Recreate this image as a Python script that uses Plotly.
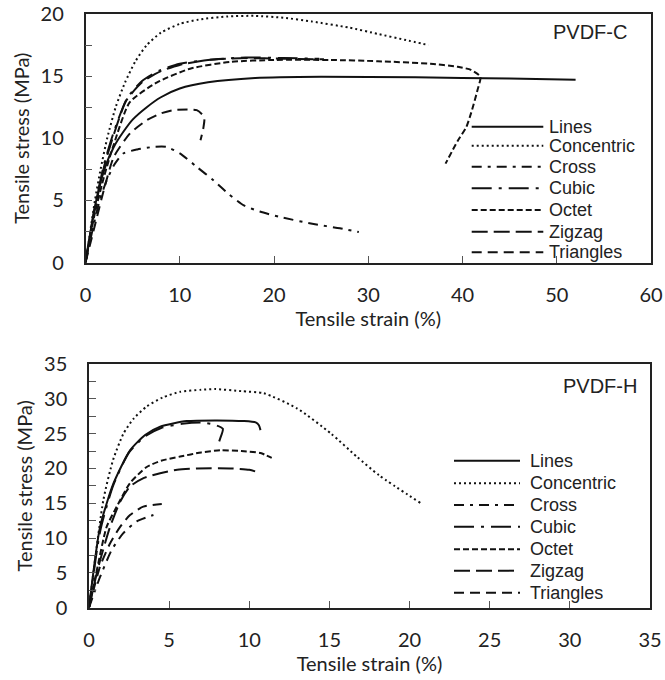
import plotly.graph_objects as go

# ---------------- PVDF-C data (strain %, stress MPa) ----------------
c_lines_x = [0, 1, 2, 3, 4, 5, 6.5, 8, 10, 13, 18, 25, 35, 45, 52]
c_lines_y = [0, 4.5, 7.5, 9.3, 10.5, 11.5, 12.5, 13.3, 14.0, 14.5, 14.85, 14.95, 14.9, 14.8, 14.7]

c_conc_x = [0, 0.5, 1.0, 1.6, 2.3, 3.2, 4.2, 5.3, 6.5, 8, 10, 12, 15, 18, 21, 24, 28, 31, 34, 36.4]
c_conc_y = [0, 2.5, 5, 7.5, 10, 12.5, 14.5, 16.2, 17.5, 18.5, 19.2, 19.55, 19.8, 19.85, 19.7, 19.4, 18.9, 18.4, 17.9, 17.5]

c_cross_x = [0, 0.8, 1.5, 2.25, 3, 4, 5.5, 7.2, 8.6, 10.05, 11.8, 13.6, 15.2, 16.8, 18.5, 20.7, 24.2, 27, 29.0]
c_cross_y = [0, 2.8, 5.0, 6.6, 7.8, 8.77, 9.1, 9.3, 9.3, 8.77, 7.7, 6.6, 5.5, 4.6, 4.1, 3.65, 3.1, 2.75, 2.45]

c_cubic_x = [0, 1, 2, 3, 4.4, 6, 8, 10, 13, 17, 21, 24.8]
c_cubic_y = [0, 4.5, 8, 10.5, 13.2, 14.6, 15.5, 16.0, 16.3, 16.5, 16.45, 16.4]

c_octet_x = [0, 1, 2, 3, 4.7, 7.6, 11.1, 15.4, 20, 26, 31, 36.6, 39.5, 40.9, 41.9, 41.6, 40.9, 40.4, 39.5, 38.2]
c_octet_y = [0, 4.0, 7.0, 9.5, 12.9, 14.5, 15.6, 16.15, 16.3, 16.3, 16.2, 16.0, 15.75, 15.5, 14.95, 13.9, 12.0, 10.9, 9.8, 7.96]

c_zig_x = [0, 1, 2, 3, 4.3, 6, 8, 10, 13, 17, 21, 25.3]
c_zig_y = [0, 4.3, 7.8, 10.3, 13.0, 14.5, 15.4, 15.9, 16.3, 16.45, 16.4, 16.35]

c_tri_x = [0, 1, 2, 3, 4.73, 6.5, 8, 9.3, 11.8, 12.6, 12.5, 12.2]
c_tri_y = [0, 3, 6, 8.5, 10.4, 11.45, 12.0, 12.26, 12.26, 11.7, 10.8, 9.84]

# ---------------- PVDF-H data ----------------
h_lines_x = [0, 0.69, 1.52, 2.56, 3.5, 4.44, 6.1, 8, 9.65, 10.4, 10.6, 10.7]
h_lines_y = [0, 11.6, 17.8, 22.6, 24.8, 26.0, 26.8, 26.9, 26.8, 26.6, 26.2, 25.5]

h_conc_x = [0, 0.9, 1.5, 2.15, 2.8, 3.6, 4.6, 5.69, 7.0, 7.875, 9.5, 10.9, 13.0, 15.1, 16.7, 18.1, 20.7]
h_conc_y = [0, 15.5, 21.2, 25.0, 27.2, 28.9, 30.2, 31.0, 31.3, 31.4, 31.1, 30.8, 28.6, 25.0, 21.7, 19.0, 15.0]

h_cross_x = [0, 0.69, 1.42, 2.14, 2.98, 4.02]
h_cross_y = [0, 4.4, 8.3, 10.7, 12.4, 13.3]

h_cubic_x = [0, 0.7, 1.5, 2.5, 3.5, 4.5, 5.8, 7.0, 7.8, 8.35, 8.2, 8.0]
h_cubic_y = [0, 11.0, 17.5, 22.3, 24.6, 25.8, 26.4, 26.6, 26.3, 25.7, 24.4, 23.1]

h_octet_x = [0, 0.5, 1.1, 1.73, 2.56, 3.6, 4.5, 5.69, 7, 8.19, 9.5, 10.7, 11.4]
h_octet_y = [0, 5.5, 11.6, 14.5, 17.9, 20.2, 21.1, 21.7, 22.3, 22.6, 22.5, 22.2, 21.5]

h_zig_x = [0, 0.6, 1.3, 1.94, 2.56, 3.4, 4.44, 5.5, 6.73, 8.8, 10.0, 10.6]
h_zig_y = [0, 6.0, 11.5, 15.2, 17.4, 18.6, 19.3, 19.8, 20.0, 20.0, 19.8, 19.4]

h_tri_x = [0, 0.69, 1.31, 1.94, 2.56, 3.39, 4.54]
h_tri_y = [0, 5.9, 9.2, 11.6, 13.3, 14.5, 14.9]

names = ["Lines", "Concentric", "Cross", "Cubic", "Octet", "Zigzag", "Triangles"]
dashes = ["solid", "2px,3px", "10px,6px,3px,6px", "20px,7px,3px,7px", "6px,3px", "16px,6px", "10px,6px"]

top_series = [(c_lines_x, c_lines_y), (c_conc_x, c_conc_y), (c_cross_x, c_cross_y),
              (c_cubic_x, c_cubic_y), (c_octet_x, c_octet_y), (c_zig_x, c_zig_y), (c_tri_x, c_tri_y)]
bot_series = [(h_lines_x, h_lines_y), (h_conc_x, h_conc_y), (h_cross_x, h_cross_y),
              (h_cubic_x, h_cubic_y), (h_octet_x, h_octet_y), (h_zig_x, h_zig_y), (h_tri_x, h_tri_y)]

W, H = 665, 680
LINE_COL = "#111111"
fig = go.Figure()

for (x, y), n, d in zip(top_series, names, dashes):
    fig.add_trace(go.Scatter(x=x, y=y, mode="lines", name=n, xaxis="x", yaxis="y",
                             line=dict(color=LINE_COL, width=2, dash=d, shape="spline", smoothing=0.6),
                             showlegend=False))
for (x, y), n, d in zip(bot_series, names, dashes):
    fig.add_trace(go.Scatter(x=x, y=y, mode="lines", name=n, xaxis="x2", yaxis="y2",
                             line=dict(color=LINE_COL, width=2, dash=d, shape="spline", smoothing=0.6),
                             showlegend=False))

tick_font = dict(family="Lato, Open Sans, sans-serif", size=20, color="#222222")
title_font = dict(family="Lato, Open Sans, sans-serif", size=20, color="#222222")

def px_x(p):
    return p / W

def px_y(p):
    return 1 - p / H

axis_common = dict(showline=True, linecolor="#222222", linewidth=1.5, mirror=True,
                   ticks="inside", tickcolor="#555555", ticklen=7, tickwidth=1.2,
                   showgrid=False, zeroline=False, tickfont=tick_font, automargin=False)

fig.update_layout(
    width=W, height=H, margin=dict(l=0, r=0, t=0, b=0, autoexpand=False),
    paper_bgcolor="white", plot_bgcolor="white",
    showlegend=False,
    xaxis=dict(domain=[px_x(85.5), px_x(651)], range=[0, 60], dtick=10, anchor="y",
               title=dict(text="Tensile strain (%)", font=title_font, standoff=2),
               ticklabelstandoff=14, **axis_common),
    yaxis=dict(domain=[px_y(262.5), px_y(14)], range=[0, 20], dtick=5, anchor="x",
               minor=dict(dtick=2.5, ticks="inside", ticklen=7, tickcolor="#555555", tickwidth=1.2),
               title=dict(text="Tensile stress (MPa)", font=title_font, standoff=6),
               ticklabelstandoff=16, **axis_common),
    xaxis2=dict(domain=[px_x(89), px_x(650)], range=[0, 35], dtick=5, anchor="y2",
                title=dict(text="Tensile strain (%)", font=title_font, standoff=2),
                ticklabelstandoff=14, **axis_common),
    yaxis2=dict(domain=[px_y(607.6), px_y(364)], range=[0, 35], dtick=5, anchor="x2",
                minor=dict(dtick=2.5, ticks="inside", ticklen=7, tickcolor="#555555", tickwidth=1.2),
                title=dict(text="Tensile stress (MPa)", font=title_font, standoff=6),
                ticklabelstandoff=16, **axis_common),
)

leg_font = dict(family="Liberation Sans, Arial, sans-serif", size=18, color="#222222")

shapes = []
annotations = []
# top legend
top_rows = [126.7, 145.7, 166.7, 188.3, 210, 231.7, 252.3]
for n, d, yy in zip(names, dashes, top_rows):
    shapes.append(dict(type="line", xref="paper", yref="paper", x0=px_x(471.7), x1=px_x(543.3),
                       y0=px_y(yy), y1=px_y(yy), line=dict(color=LINE_COL, width=2, dash=d)))
    annotations.append(dict(text=n, xref="paper", yref="paper", x=px_x(547), y=px_y(yy),
                            xanchor="left", yanchor="middle", showarrow=False, font=leg_font))
bot_rows = [460.7, 483.3, 505, 526.7, 549.3, 570.7, 592.7]
for n, d, yy in zip(names, dashes, bot_rows):
    shapes.append(dict(type="line", xref="paper", yref="paper", x0=px_x(454), x1=px_x(520),
                       y0=px_y(yy), y1=px_y(yy), line=dict(color=LINE_COL, width=2, dash=d)))
    annotations.append(dict(text=n, xref="paper", yref="paper", x=px_x(528), y=px_y(yy),
                            xanchor="left", yanchor="middle", showarrow=False, font=leg_font))

title_font2 = dict(family="Liberation Sans, Arial, sans-serif", size=20, color="#222222")
annotations.append(dict(text="PVDF-C", xref="paper", yref="paper", x=px_x(629), y=px_y(32),
                        xanchor="right", yanchor="middle", showarrow=False, font=title_font2))
annotations.append(dict(text="PVDF-H", xref="paper", yref="paper", x=px_x(639), y=px_y(385.5),
                        xanchor="right", yanchor="middle", showarrow=False, font=title_font2))

fig.update_layout(shapes=shapes, annotations=annotations)
fig.write_html("out.html")
